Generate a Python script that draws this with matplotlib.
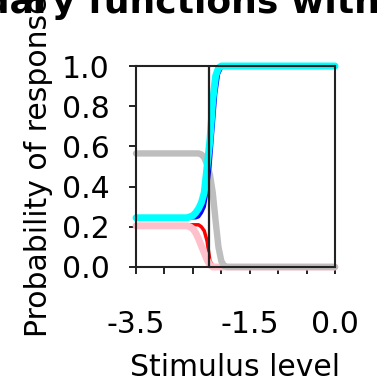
import numpy as np
import matplotlib
matplotlib.use("Agg")
import matplotlib.pyplot as plt

# stimulus levels (dense around the threshold)
stim = [-3.5, -2.7, -2.6, -2.55, -2.5, -2.45, -2.4, -2.35, -2.3, -2.25,
        -2.2, -2.15, -2.1, -2.05, -2.0, -1.95, -1.9, -1.5, 0.0]

# response probabilities per curve
p_red = [0.21, 0.21, 0.21, 0.21, 0.21, 0.21, 0.21, 0.2, 0.18, 0.13,
         0.03, 0.008, 0.0, 0.0, 0.0, 0.0, 0.0, 0.0, 0.0]
p_pink = [0.205, 0.205, 0.205, 0.2, 0.19, 0.17, 0.14, 0.105, 0.07, 0.035,
          0.01, 0.0, 0.0, 0.0, 0.0, 0.0, 0.0, 0.0, 0.0]
p_gray = [0.565, 0.565, 0.565, 0.565, 0.565, 0.565, 0.565, 0.56, 0.545, 0.51,
          0.46, 0.37, 0.23, 0.1, 0.03, 0.005, 0.0, 0.0, 0.0]
p_blue = [0.245, 0.245, 0.245, 0.245, 0.245, 0.245, 0.25, 0.27, 0.3, 0.38,
          0.5, 0.68, 0.86, 0.96, 0.99, 1.0, 1.0, 1.0, 1.0]
p_cyan = [0.245, 0.245, 0.245, 0.25, 0.255, 0.27, 0.29, 0.32, 0.37, 0.5,
          0.63, 0.83, 0.95, 0.99, 1.0, 1.0, 1.0, 1.0, 1.0]

threshold = -2.22

xticks = [-3.5, -3.0, -2.5, -2.0, -1.5, -1.0, -0.5, 0.0]
xticklabels = ['-3.5', '', '', '', '-1.5', '', '', '0.0']
yticks = [0.0, 0.2, 0.4, 0.6, 0.8, 1.0]

fs = 21.5
fig = plt.figure(figsize=(3.77, 3.84), dpi=100)
ax = fig.add_axes([136/377, 1-267/384, 199/377, 201/384])

kw = dict(solid_capstyle='round', clip_on=False)
ax.plot(stim, p_red, color='#ff0000', lw=2.5, **kw)
ax.plot(stim, p_pink, color='#ffc0cb', lw=5, **kw)
ax.plot(stim, p_gray, color='#bebebe', lw=4.6, **kw)
ax.plot(stim, p_blue, color='#0000ff', lw=2.5, **kw)
ax.plot(stim, p_cyan, color='#00ffff', lw=5, **kw)
ax.axvline(threshold, color='#222222', lw=1.6, zorder=5)

ax.set_xlim(-3.5, 0.0)
ax.set_ylim(0.0, 1.0)
ax.set_xticks(xticks)
ax.set_xticklabels(xticklabels)
ax.set_yticks(yticks)
ax.set_yticklabels(['%.1f' % v for v in yticks])
ax.tick_params(axis='both', direction='out', length=5, width=1.4,
               color='#222222', labelsize=fs)
ax.tick_params(axis='x', pad=26)
ax.tick_params(axis='y', pad=14)
for s in ax.spines.values():
    s.set_linewidth(1.5)
    s.set_color('#222222')

ax.set_xlabel('Stimulus level', fontsize=fs)
ax.xaxis.set_label_coords(0.5, -0.43)
ax.set_ylabel('Probability of response', fontsize=fs)
ax.yaxis.set_label_coords(-0.415, 0.5)

fig.text(-120/377, 1-13/384, 'Boundary functions with lapses',
         fontsize=26, fontweight='bold', ha='left', va='baseline')

fig.savefig('out.png', dpi=100)
